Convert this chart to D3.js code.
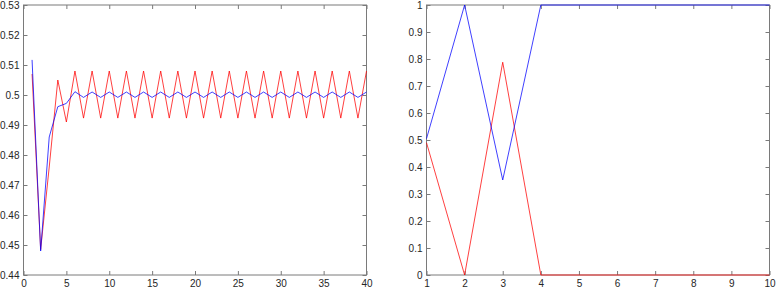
<!DOCTYPE html>
<html>
<head>
<meta charset="utf-8">
<style>
body { margin: 0; background: #fff; }
svg { font: 10px "Liberation Sans", Arial, sans-serif; }
.box { fill: none; stroke: #7a7a7a; stroke-width: 1; }
.tick line { stroke: #7a7a7a; }
.tick text { fill: #262626; }
.domain { display: none; }
</style>
</head>
<body>
<svg width="777" height="290"></svg>
<script src="https://cdn.jsdelivr.net/npm/d3@7"></script>
<script>

// left panel: iterations 1..40
var leftX = d3.range(1, 41);
var leftRed = [0.507, 0.4485, 0.476, 0.505, 0.491, 0.508, 0.4923, 0.508, 0.4923, 0.508,
  0.4923, 0.508, 0.4923, 0.508, 0.4923, 0.508, 0.4923, 0.508, 0.4923, 0.508,
  0.4923, 0.508, 0.4923, 0.508, 0.4923, 0.508, 0.4923, 0.508, 0.4923, 0.508,
  0.4923, 0.508, 0.4923, 0.508, 0.4923, 0.508, 0.4923, 0.508, 0.4923, 0.508];
var leftBlue = [0.5117, 0.448, 0.486, 0.4961, 0.4972, 0.5011, 0.4992, 0.501, 0.4992, 0.501,
  0.4992, 0.501, 0.4992, 0.501, 0.4992, 0.501, 0.4992, 0.501, 0.4992, 0.501,
  0.4992, 0.501, 0.4992, 0.501, 0.4992, 0.501, 0.4992, 0.501, 0.4992, 0.501,
  0.4992, 0.501, 0.4992, 0.501, 0.4992, 0.501, 0.4992, 0.501, 0.4992, 0.501];
var leftXTicks = [0, 5, 10, 15, 20, 25, 30, 35, 40];
var leftYTicks = [0.44, 0.45, 0.46, 0.47, 0.48, 0.49, 0.5, 0.51, 0.52, 0.53];

// right panel: 1..10
var rightX = d3.range(1, 11);
var rightRed = [0.49, 0, 0.788, 0, 0, 0, 0, 0, 0, 0];
var rightBlue = [0.505, 1, 0.352, 1, 1, 1, 1, 1, 1, 1];
var rightXTicks = [1, 2, 3, 4, 5, 6, 7, 8, 9, 10];
var rightYTicks = [0, 0.1, 0.2, 0.3, 0.4, 0.5, 0.6, 0.7, 0.8, 0.9, 1];

var svg = d3.select("svg");
var fmt = function(d) { return d3.format("~g")(+d.toFixed(4)); };

function panel(opt) {
  var x = d3.scaleLinear().domain(opt.xd).range([opt.left, opt.right]);
  var y = d3.scaleLinear().domain(opt.yd).range([275, 5]);
  var g = svg.append("g");
  var tl = 4;

  g.append("g").attr("transform", "translate(0,275)")
    .call(d3.axisBottom(x).tickValues(opt.xt).tickSize(-tl).tickPadding(5).tickFormat(fmt));
  g.append("g").attr("transform", "translate(0,5)")
    .call(d3.axisTop(x).tickValues(opt.xt).tickSize(-tl).tickFormat(""));
  g.append("g").attr("transform", "translate(" + opt.left + ",0)")
    .call(d3.axisLeft(y).tickValues(opt.yt).tickSize(-tl).tickPadding(4).tickFormat(fmt));
  g.append("g").attr("transform", "translate(" + opt.right + ",0)")
    .call(d3.axisRight(y).tickValues(opt.yt).tickSize(-tl).tickFormat(""));

  g.append("rect").attr("class", "box")
    .attr("x", opt.left).attr("y", 5)
    .attr("width", opt.right - opt.left).attr("height", 270);

  var line = d3.line().x(function(d) { return x(d[0]); }).y(function(d) { return y(d[1]); });
  opt.series.forEach(function(s) {
    g.append("path")
      .datum(opt.xs.map(function(v, i) { return [v, s.values[i]]; }))
      .attr("fill", "none")
      .attr("stroke", s.color)
      .attr("stroke-opacity", 0.75)
      .attr("stroke-width", 1)
      .attr("d", line);
  });
}

panel({
  left: 23.5, right: 366.5, xd: [0, 40], yd: [0.44, 0.53],
  xt: leftXTicks, yt: leftYTicks, xs: leftX,
  series: [{ values: leftRed, color: "#ff0000" }, { values: leftBlue, color: "#0000ff" }]
});

panel({
  left: 426.5, right: 769.5, xd: [1, 10], yd: [0, 1],
  xt: rightXTicks, yt: rightYTicks, xs: rightX,
  series: [{ values: rightRed, color: "#ff0000" }, { values: rightBlue, color: "#0000ff" }]
});

</script>
</body>
</html>
